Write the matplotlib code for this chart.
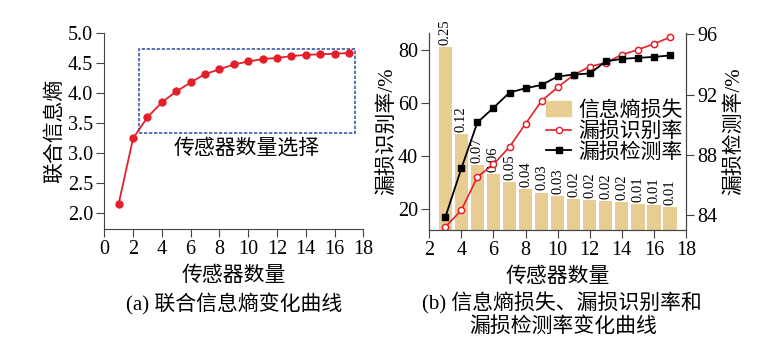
import matplotlib
matplotlib.use("Agg")
import matplotlib.pyplot as plt
from matplotlib.patches import Rectangle, Patch
from matplotlib.lines import Line2D

plt.rcParams['font.family'] = ['Liberation Serif', 'Noto Sans CJK SC']
plt.rcParams['axes.unicode_minus'] = False

# ---- data: panel (a) ----
n_a = list(range(1, 18))
joint_entropy = [2.16, 3.25, 3.60, 3.85, 4.03, 4.18, 4.32, 4.40, 4.48, 4.53,
                 4.57, 4.59, 4.62, 4.64, 4.65, 4.66, 4.67]

# ---- data: panel (b) ----
n_b = list(range(3, 18))
loss_bar = [81.0, 48.2, 36.6, 33.2, 30.2, 27.4, 26.2, 24.8, 23.8, 23.4,
            23.0, 22.6, 22.0, 21.4, 20.8]
loss_labels = ['0.25', '0.12', '0.07', '0.06', '0.05', '0.04', '0.03', '0.03',
               '0.02', '0.02', '0.02', '0.02', '0.01', '0.01', '0.01']
ident_rate = [13.2, 19.6, 32.1, 36.9, 43.4, 52.2, 60.8, 65.9, 70.6, 73.7,
              75.2, 78.2, 80.1, 82.3, 84.8]
detect_rate = [83.85, 87.1, 90.15, 91.12, 92.13, 92.42, 92.64, 93.2, 93.33,
               93.4, 94.2, 94.37, 94.44, 94.5, 94.6]

RED = '#E3202A'
TAN = '#E8CD92'
W, H = 760, 348
fig = plt.figure(figsize=(W / 100, H / 100), dpi=100)

def frac(x0, y0, x1, y1):
    return [x0 / W, 1 - y1 / H, (x1 - x0) / W, (y1 - y0) / H]

TICK = 14.5
CJK = 15
TKW = dict(labelsize=TICK, direction='out', length=5.5, width=0.8, pad=2.5,
           color='#444444')

def style_spines(ax):
    for s in ax.spines.values():
        s.set_linewidth(0.8)
        s.set_color('#444444')

# ---------- panel (a) ----------
ax1 = fig.add_axes(frac(104.3, 33.3, 363.3, 229.3))
ax1.plot(n_a, joint_entropy, color=RED, lw=1.3, marker='o', ms=5,
         mfc=RED, mec=RED)
ax1.set_xlim(0, 18)
ax1.set_ylim(1.733, 5.0)
ax1.set_xticks(range(0, 19, 2))
ax1.set_yticks([2.0, 2.5, 3.0, 3.5, 4.0, 4.5, 5.0])
ax1.set_yticklabels(['2.0', '2.5', '3.0', '3.5', '4.0', '4.5', '5.0'])
for s in ['top', 'right']:
    ax1.spines[s].set_visible(False)
style_spines(ax1)
ax1.tick_params(**TKW)
ax1.set_xlabel('传感器数量', fontsize=CJK, labelpad=5)
ax1.set_ylabel('联合信息熵', fontsize=CJK, labelpad=2)
ax1.add_patch(Rectangle((2.43, 3.333), 17.42 - 2.43, 4.733 - 3.333,
                        fill=False, ec='#3A5BA8', lw=1.2, ls=(0, (2, 1))))
ax1.text(9.9, 3.08, '传感器数量选择', fontsize=CJK, ha='center', va='center')

# ---------- panel (b) ----------
ax2 = fig.add_axes(frac(429.3, 33, 686, 230))
ax2.bar(n_b, loss_bar, width=0.83, color=TAN, zorder=1)
for x, h, lab in zip(n_b, loss_bar, loss_labels):
    ax2.text(x, h + 0.8, lab, rotation=90, ha='center', va='bottom',
             fontsize=10.5, clip_on=False)
l1, = ax2.plot(n_b, ident_rate, color=RED, lw=1.2, marker='o', ms=4.5,
               mfc='white', mec=RED, mew=1.1, zorder=3)
ax2.set_xlim(2, 18)
ax2.set_ylim(12.08, 86.4)
ax2.set_xticks(range(2, 19, 2))
ax2.set_yticks([20, 40, 60, 80])
ax2.spines['top'].set_visible(False)
style_spines(ax2)
ax2.tick_params(**TKW)
ax2.set_xlabel('传感器数量', fontsize=CJK, labelpad=5)
ax2.set_ylabel('漏损识别率/%', fontsize=CJK, labelpad=1)

ax3 = ax2.twinx()
l2, = ax3.plot(n_b, detect_rate, color='black', lw=1.3, marker='s', ms=5,
               mfc='black', mec='black', zorder=3)
ax3.set_ylim(83.0, 96.09)
ax3.set_yticks([84, 88, 92, 96])
ax3.spines['top'].set_visible(False)
style_spines(ax3)
ax3.tick_params(**TKW)
ax3.set_ylabel('漏损检测率/%', fontsize=CJK, labelpad=5)

handles = [Patch(color=TAN),
           Line2D([], [], color=RED, lw=1.2, marker='o', ms=4.5, mfc='white', mec=RED),
           Line2D([], [], color='black', lw=1.3, marker='s', ms=5)]
ax3.legend(handles, ['信息熵损失', '漏损识别率', '漏损检测率'], frameon=False,
           fontsize=CJK, loc='upper left', bbox_to_anchor=(0.455, 0.655),
           borderaxespad=0, handlelength=1.2, handletextpad=0.35,
           labelspacing=0.05, borderpad=0)

fig.text(234 / W, 1 - 304 / H, '(a) 联合信息熵变化曲线', fontsize=CJK,
         ha='center', va='center')
fig.text(562 / W, 1 - 303 / H, '(b) 信息熵损失、漏损识别率和', fontsize=CJK,
         ha='center', va='center')
fig.text(563 / W, 1 - 327 / H, '漏损检测率变化曲线', fontsize=CJK,
         ha='center', va='center')

fig.savefig('out.png', dpi=100)
